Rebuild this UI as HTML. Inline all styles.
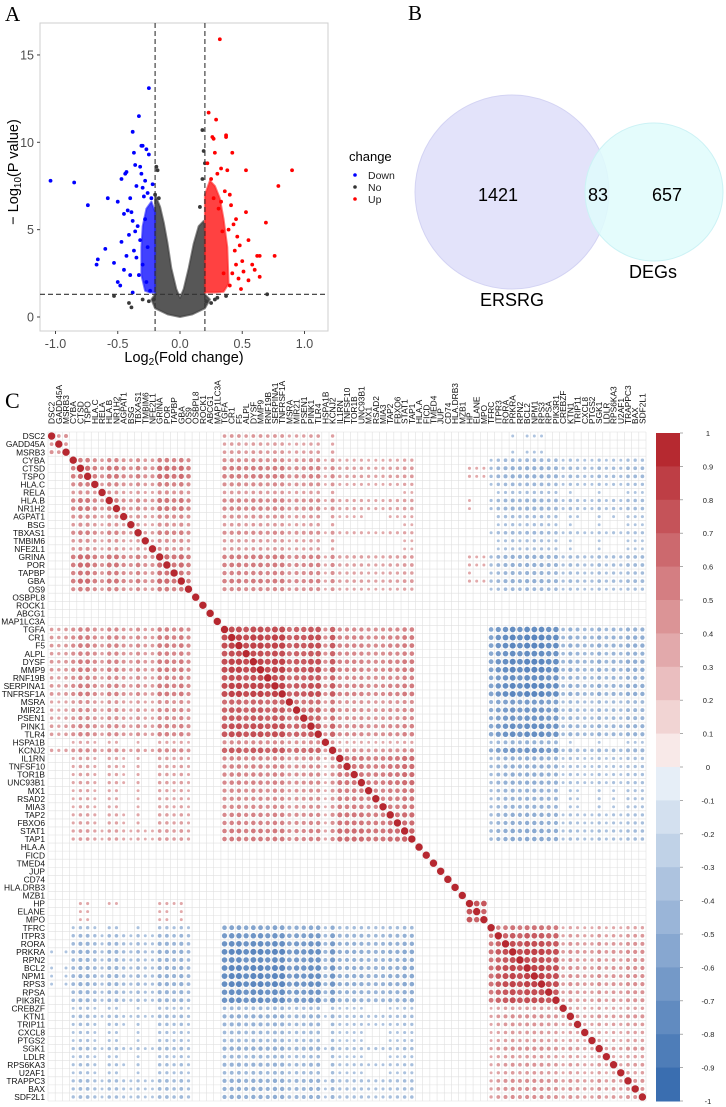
<!DOCTYPE html>
<html><head><meta charset="utf-8">
<style>
html,body{margin:0;padding:0;background:#fff;}
svg{display:block;font-family:"Liberation Sans",Arial,sans-serif;}
</style></head>
<body>
<svg id="fig" width="726" height="1107" viewBox="0 0 726 1107" xmlns="http://www.w3.org/2000/svg">
  <g id="panelA">
    <text x="5" y="21" font-family="Liberation Serif,serif" font-size="21">A</text>
    <rect x="40" y="23" width="288" height="308" fill="#fff" stroke="#cfcfcf" stroke-width="1"/>
    <g id="vAxes"></g>
    <g id="vMarks"></g>
    <text x="184" y="362" text-anchor="middle" font-size="14.5" fill="#000">Log<tspan font-size="10" dy="3">2</tspan><tspan dy="-3">(Fold change)</tspan></text>
    <text transform="translate(18,172) rotate(-90)" text-anchor="middle" font-size="14.5" fill="#000">− Log<tspan font-size="10" dy="3">10</tspan><tspan dy="-3">(P value)</tspan></text>
    <g>
      <text x="349" y="161" font-size="13">change</text>
      <circle cx="355" cy="175" r="1.8" fill="#0000ff"/>
      <text x="368" y="179" font-size="10.5" fill="#222">Down</text>
      <circle cx="355" cy="187" r="1.8" fill="#333"/>
      <text x="368" y="191" font-size="10.5" fill="#222">No</text>
      <circle cx="355" cy="199" r="1.8" fill="#ff0000"/>
      <text x="368" y="203" font-size="10.5" fill="#222">Up</text>
    </g>
  </g>
  <g id="panelB">
    <text x="408" y="20" font-family="Liberation Serif,serif" font-size="21">B</text>
    <circle cx="512" cy="192" r="97" fill="#e3e3fa" stroke="#d3d3f3" stroke-width="1"/>
    <circle cx="654" cy="192" r="69" fill="#dffcfc" fill-opacity="0.85" stroke="#ccf2f5" stroke-width="1"/>
    <text x="498" y="201" text-anchor="middle" font-size="18">1421</text>
    <text x="598" y="201" text-anchor="middle" font-size="18">83</text>
    <text x="667" y="201" text-anchor="middle" font-size="18">657</text>
    <text x="512" y="306" text-anchor="middle" font-size="18">ERSRG</text>
    <text x="653" y="278" text-anchor="middle" font-size="18">DEGs</text>
  </g>
  <g id="panelC">
    <text x="5" y="408" font-family="Liberation Serif,serif" font-size="22">C</text>
    <g id="cGrid"></g>
    <g id="cMarks"></g>
    <g id="cLabels"></g>
    <g id="cBar"></g>
  </g>
</svg>
<script>
// ---------- Volcano data ----------
const downX = [-1.04,-0.85,-0.74,-0.58,-0.6,-0.67,-0.66,-0.53,-0.5,-0.48,-0.5,-0.47,-0.44,-0.43,-0.45,-0.42,-0.39,-0.38,-0.37,-0.33,-0.31,-0.3,-0.25,-0.27,-0.25,-0.36,-0.32,-0.31,-0.28,-0.3,-0.35,-0.4,-0.47,-0.41,-0.38,-0.36,-0.4,-0.38,-0.35,-0.33,-0.3,-0.27,-0.24,-0.43,-0.45,-0.34,-0.29,-0.26,-0.37,-0.32,-0.28,-0.22,-0.23,-0.26];
const downY = [7.8,7.7,6.4,6.8,3.9,3.0,3.3,3.1,2.0,1.8,6.6,7.9,8.2,8.3,5.9,6.1,6.0,10.6,9.4,11.5,9.8,9.8,13.1,9.6,9.3,8.7,8.6,8.2,7.8,7.4,7.5,6.8,4.3,4.7,5.5,4.9,2.4,1.4,3.4,2.4,3.0,2.0,1.5,3.5,2.7,5.2,6.9,7.1,3.8,4.4,5.6,7.6,6.8,4.0];
const upX = [0.32,0.23,0.29,0.27,0.26,0.37,0.37,0.28,0.42,0.9,0.53,0.79,0.69,0.76,0.62,0.64,0.55,0.64,0.6,0.53,0.48,0.55,0.5,0.45,0.43,0.46,0.4,0.38,0.33,0.3,0.22,0.25,0.45,0.42,0.4,0.35,0.33,0.36,0.44,0.47,0.51,0.39,0.31,0.27,0.58,0.41,0.49,0.34];
const upY = [15.9,11.7,11.3,10.2,10.3,10.3,10.4,9.4,9.4,8.4,8.4,7.5,5.4,3.5,3.5,3.5,2.1,2.3,2.7,6.0,4.1,4.4,3.2,5.6,5.3,4.6,7.0,8.4,8.5,8.2,8.8,7.9,3.0,2.5,1.8,2.5,6.6,7.2,3.8,2.2,2.6,5.0,6.2,6.8,3.0,6.4,1.6,4.9];
const noX = [-0.19,-0.18,0.18,0.19,0.2,0.18,-0.2,-0.53,-0.41,-0.39,-0.3,0.7,0.3,0.37,0.28,-0.17,0.16,-0.21,0.21,-0.25,0.25];
const noY = [8.6,8.4,10.7,9.5,8.8,7.9,7.0,1.2,0.8,0.55,1.0,1.3,1.1,1.2,1.0,6.8,6.3,1.0,0.9,0.9,0.8];
const noCloudX = [-0.2,-0.2,-0.23,-0.2,-0.1,0,0.1,0.2,0.24,0.2,0.2,0.19,0.15,0.11,0.07,0.03,0,-0.03,-0.07,-0.1,-0.13,-0.16,-0.2];
const noCloudY = [7.0,1.3,1.0,0.5,0.15,0,0.15,0.5,1.0,1.3,5.0,5.5,5.2,4.2,2.8,1.6,1.1,1.6,2.8,4.2,5.4,6.3,7.0];
const downCloudX = [-0.2,-0.2,-0.23,-0.27,-0.3,-0.31,-0.31,-0.28,-0.24];
const downCloudY = [1.4,6.0,6.6,6.2,5.2,4.0,2.4,1.5,1.4];
const upCloudX = [0.2,0.2,0.24,0.28,0.32,0.35,0.38,0.39,0.35,0.28];
const upCloudY = [1.4,7.0,7.8,7.5,6.8,5.6,4.0,1.9,1.45,1.4];
const xTicks = [-1.0,-0.5,0.0,0.5,1.0];
const yTicks = [0,5,10,15];

// ---------- Correlation data ----------
const genes = ["DSC2","GADD45A","MSRB3","CYBA","CTSD","TSPO","HLA.C","RELA","HLA.B","NR1H2","AGPAT1","BSG","TBXAS1","TMBIM6","NFE2L1","GRINA","POR","TAPBP","GBA","OS9","OSBPL8","ROCK1","ABCG1","MAP1LC3A","TGFA","CR1","F5","ALPL","DYSF","MMP9","RNF19B","SERPINA1","TNFRSF1A","MSRA","MIR21","PSEN1","PINK1","TLR4","HSPA1B","KCNJ2","IL1RN","TNFSF10","TOR1B","UNC93B1","MX1","RSAD2","MIA3","TAP2","FBXO6","STAT1","TAP1","HLA.A","FICD","TMED4","JUP","CD74","HLA.DRB3","MZB1","HP","ELANE","MPO","TFRC","ITPR3","RORA","PRKRA","RPN2","BCL2","NPM1","RPS3","RPSA","PIK3R1","CREBZF","KTN1","TRIP11","CXCL8","PTGS2","SGK1","LDLR","RPS6KA3","U2AF1","TRAPPC3","BAX","SDF2L1"];
const geneGroup = [0,0,0,1,1,1,1,1,1,1,1,1,1,1,1,1,1,1,1,1,2,2,2,2,3,3,3,3,3,3,3,3,3,3,3,3,3,3,3,3,4,4,4,4,4,4,4,4,4,4,4,5,5,5,5,5,5,5,6,6,6,7,7,7,7,7,7,7,7,7,7,8,8,8,8,8,8,8,8,8,8,8,8];
const geneWeight = [0.8,0.7,0.8,0.8,1,1,0.8,0.6,0.9,0.9,0.7,0.6,0.8,0.6,0.6,1,1,0.9,1,0.8,0.5,0.5,0.6,0.6,1,1.1,1.1,1,1.1,1.1,1,1.1,1.1,0.8,0.9,0.9,1,1,0.5,0.9,0.9,0.9,0.9,0.9,0.8,0.8,0.8,0.9,0.9,1,1,0.7,0.3,0.5,0.3,0.6,0.3,0.5,0.9,0.8,0.8,0.7,0.9,1,1.1,1,1.1,1.1,1.1,1,1,0.7,0.9,0.8,0.7,0.7,0.9,0.7,0.8,0.7,0.9,0.9,0.9];
const groupCorr = [
 [0.45,0.15,0.08,0.3,0.15,0,0,-0.18,-0.15],
 [0.15,0.5,0.2,0.38,0.25,0.07,0.2,-0.3,-0.28],
 [0.08,0.2,0.25,0.2,0.14,0,0,-0.14,-0.14],
 [0.3,0.38,0.2,0.6,0.38,0.07,0.14,-0.55,-0.35],
 [0.15,0.25,0.14,0.38,0.55,0.14,0.07,-0.35,-0.25],
 [0,0.07,0,0.07,0.14,0.14,0.14,-0.07,-0.07],
 [0,0.2,0,0.14,0.07,0.14,0.85,0,0],
 [-0.18,-0.3,-0.14,-0.55,-0.35,-0.07,0,0.6,0.32],
 [-0.15,-0.28,-0.14,-0.35,-0.25,-0.07,0,0.32,0.35]
];
const barTicks = [1,0.9,0.8,0.7,0.6,0.5,0.4,0.3,0.2,0.1,0,-0.1,-0.2,-0.3,-0.4,-0.5,-0.6,-0.7,-0.8,-0.9,-1];

const NS = "http://www.w3.org/2000/svg";
function mk(parent, tag, attrs, text){
  const el = document.createElementNS(NS, tag);
  for (const k in attrs) el.setAttribute(k, attrs[k]);
  if (text !== undefined) el.textContent = text;
  parent.appendChild(el);
  return el;
}

const vx = v => 180 + v * 124.5;
const vy = v => 317 - v * 17.47;
const vAxes = document.getElementById('vAxes');
xTicks.forEach(t => {
  const l = mk(vAxes,'line',{x1:vx(t),x2:vx(t),y1:331,y2:334,stroke:'#444','stroke-width':1});
  
  
  const tx = mk(vAxes,'text',{x:vx(t),y:348,'text-anchor':'middle','font-size':12.5,fill:'#4d4d4d'}, t.toFixed(1));
  
  
});
yTicks.forEach(t => {
  const l = mk(vAxes,'line',{x1:37,x2:40,y1:vy(t),y2:vy(t),stroke:'#444','stroke-width':1});
  
  
  const tx = mk(vAxes,'text',{x:34,y:vy(t)+4.5,'text-anchor':'end','font-size':12.5,fill:'#4d4d4d'}, String(t));
  
  
});
const vMarks = document.getElementById('vMarks');
function cloud(xs, ys, color, name){
  const pts = xs.map((x,i)=> vx(x).toFixed(1)+','+vy(ys[i]).toFixed(1)).join(' ');
  const p = mk(vMarks,'polygon',{points:pts,fill:color,'fill-opacity':0.85,stroke:color,'stroke-opacity':0.6,'stroke-width':2,'stroke-linejoin':'round'});
  
  
}
cloud(noCloudX, noCloudY, '#3a3a3a', 'no-change-cloud');
cloud(downCloudX, downCloudY, '#2020ff', 'down-cloud');
cloud(upCloudX, upCloudY, '#ff2020', 'up-cloud');
function pts(xs, ys, color, name){
  xs.forEach((x,i)=>{
    const c = mk(vMarks,'circle',{cx:vx(x),cy:vy(ys[i]),r:1.9,fill:color});
    
    
  });
}
pts(noX, noY, '#3a3a3a', 'no-change-point');
pts(downX, downY, '#0000ff', 'down-point');
pts(upX, upY, '#ff0000', 'up-point');
[[vx(-0.2),23,vx(-0.2),331],[vx(0.2),23,vx(0.2),331],[40,vy(1.3),328,vy(1.3)]].forEach(s=>{
  const l = mk(vMarks,'line',{x1:s[0],y1:s[1],x2:s[2],y2:s[3],stroke:'#333','stroke-width':1.1,'stroke-dasharray':'5,3'});
  
  
});

// ---------- Correlation plot ----------
const N = genes.length;
const gx0 = 48, gy0 = 432, cw = 598 / N, ch = 669 / N;
const cx = j => gx0 + cw * (j + 0.5);
const cy = i => gy0 + ch * (i + 0.5);
const cGrid = document.getElementById('cGrid');
for (let k=0;k<=N;k++){
  const a = mk(cGrid,'line',{x1:gx0+cw*k,x2:gx0+cw*k,y1:gy0,y2:gy0+ch*N,stroke:'#e0e0e0','stroke-width':0.6});
  
  
  const b = mk(cGrid,'line',{x1:gx0,x2:gx0+cw*N,y1:gy0+ch*k,y2:gy0+ch*k,stroke:'#e0e0e0','stroke-width':0.6});
  
  
}
function mix(a,b,t){return 'rgb('+a.map((v,i)=>Math.round(v+(b[i]-v)*t)).join(',')+')';}
const WHITE=[252,244,242], RED=[182,40,48], WHITEB=[240,245,251], BLUE=[58,110,176];
function colorOf(r){ return r>=0 ? mix(WHITE,RED,Math.min(1,r)) : mix(WHITEB,BLUE,Math.min(1,-r)); }
function markColor(r){ const t=Math.min(1,0.22+Math.abs(r)*0.9); return r>=0 ? mix(WHITE,RED,t) : mix(WHITEB,BLUE,t); }
const cMarks = document.getElementById('cMarks');
for (let i=0;i<N;i++){
  for (let j=0;j<N;j++){
    let r = (i===j) ? 1 : groupCorr[geneGroup[i]][geneGroup[j]] * geneWeight[i] * geneWeight[j];
    if (r > 1) r = 1; if (r < -1) r = -1;
    if (Math.abs(r) < 0.15) continue;
    const rad = Math.sqrt(Math.abs(r)) * 3.7;
    const c = mk(cMarks,'circle',{cx:cx(j).toFixed(2),cy:cy(i).toFixed(2),r:rad.toFixed(2),fill:markColor(r)});
    
    
  }
}
const cLabels = document.getElementById('cLabels');
genes.forEach((g,i)=>{
  const t = mk(cLabels,'text',{x:45,y:(cy(i)+3.1).toFixed(2),'text-anchor':'end','font-size':8.4,fill:'#111'}, g);
  
  
  const u = mk(cLabels,'text',{transform:'translate('+(cx(i)+3).toFixed(2)+',424) rotate(-90)','font-size':8.4,fill:'#111'}, g);
  
  
});
const cBar = document.getElementById('cBar');
const bx = 656, bw = 24, by0 = 433, bh = 668;
const step = bh / (barTicks.length - 1);
for (let k=0;k<barTicks.length-1;k++){
  const mid = (barTicks[k] + barTicks[k+1]) / 2;
  const r = mk(cBar,'rect',{x:bx,y:(by0+step*k).toFixed(2),width:bw,height:(step+0.5).toFixed(2),fill:colorOf(mid*1.05)});
  
  
}
barTicks.forEach((t,k)=>{
  const y = by0 + step*k;
  const l = mk(cBar,'line',{x1:bx+bw,x2:bx+bw+3,y1:y,y2:y,stroke:'#888','stroke-width':0.7});
  
  
  const tx = mk(cBar,'text',{x:708,y:y+3,'text-anchor':'middle','font-size':7.5,fill:'#222'}, String(t));
  
  
});
</script>
</body></html>
